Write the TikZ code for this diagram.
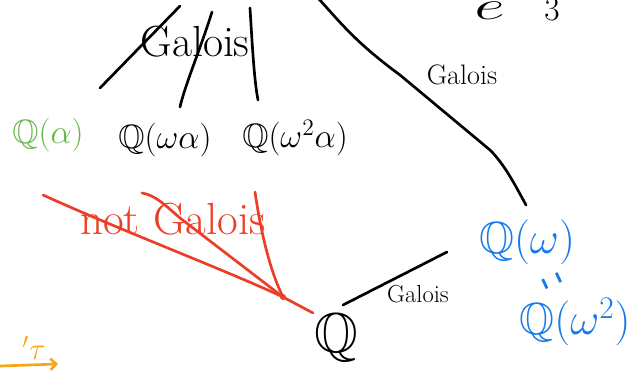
\RequirePackage{fix-cm}
\documentclass[tikz,border=0pt]{standalone}
\usepackage{amsmath,amssymb}
\usetikzlibrary{arrows.meta}
\definecolor{inkgreen}{RGB}{98,184,72}
\definecolor{inkblue}{RGB}{22,122,232}
\definecolor{inkred}{RGB}{236,62,38}
\definecolor{inkorange}{RGB}{246,166,20}
\tikzset{
  ink/.style={line width=1.9pt, line cap=round, line join=round},
  field/.style={inner sep=0pt, font=\fontsize{24}{28}\selectfont},
  bigfield/.style={inner sep=0pt, font=\fontsize{32}{38}\selectfont},
  tag/.style={inner sep=0pt, font=\fontsize{20}{24}\selectfont},
}

\begin{document}
\begin{tikzpicture}[x=0.025cm,y=-0.025cm]
  \useasboundingbox (0,0) rectangle (643,370);
  % fields
  \node[field,text=inkgreen] (qa) at (48,135) {$\mathbb{Q}(\alpha)$};
  \node[field] (qwa) at (165,140) {$\mathbb{Q}(\omega\alpha)$};
  \node[field] (qwwa) at (295,138) {$\mathbb{Q}(\omega^2\alpha)$};
  \node[bigfield,text=inkblue] (qw) at (527,242) {$\mathbb{Q}(\omega)$};
  \node[text=inkblue,rotate=-65,font=\fontsize{20}{24}\selectfont,inner sep=0pt] (eq) at (547,284) {\scalebox{0.6}[3]{$=$}};
  \node[bigfield,text=inkblue] (qww) at (575,322) {$\mathbb{Q}(\omega^2)$};
  \node[inner sep=0pt,font=\fontsize{40}{46}\selectfont] (q) at (336,338) {$\mathbb{Q}$};
  \node[anchor=base west,inner sep=0pt,font=\fontsize{34}{40}\selectfont] (root) at (474,19)
    {$\scalebox{1.4}[0.85]{$e$}\hspace{16pt}\raisebox{11pt}{$\frac{2\pi i}{3}$}$};

  % free ends
  \coordinate (t1) at (180,6);   \coordinate (a1) at (100,88);
  \coordinate (t2) at (212,12);  \coordinate (a2) at (180,107);
  \coordinate (t3) at (250,8);   \coordinate (a3) at (258,100);
  \coordinate (t4) at (318,-2);  \coordinate (qw-top) at (526,205);
  \coordinate (q-top) at (343,305); \coordinate (qw-low) at (447,252);

  \node[inner sep=0pt,font=\fontsize{31}{36}\selectfont] (g1) at (195,42) {Galois};
  \draw[ink] (t1) -- (a1);
  \draw[ink] (t2) .. controls (200,50) and (185,85) .. (a2);
  \draw[ink] (t3) .. controls (252,40) and (254,80) .. (a3);
  \draw[ink] (t4) .. controls (340,22) and (355,42) .. (400,75) -- (490,150) .. controls (505,165) and (515,185) .. (qw-top);
  \node[tag] (g2) at (462,75) {Galois};
  \draw[ink] (q-top) -- (qw-low);
  \node[tag,font=\fontsize{17.5}{20}\selectfont] (g3) at (418,294) {Galois};

  % not Galois
  \coordinate (ra) at (43,195); \coordinate (rb) at (142,193); \coordinate (rc) at (255,192);
  \coordinate (meet) at (283,297); \coordinate (q-red) at (313,313);
  \draw[ink,inkred] (ra) .. controls (120,230) and (230,272) .. (meet) -- (q-red);
  \draw[ink,inkred] (rb) .. controls (155,195) and (165,205) .. (180,218) -- (meet);
  \draw[ink,inkred] (rc) .. controls (262,240) and (272,275) .. (meet);
  \fill[inkred] (meet) circle (3);
  \node[inner sep=0pt,text=inkred,font=\fontsize{32}{38}\selectfont] (ng) at (173,219) {not Galois};

  % orange corner
  \node[inner sep=0pt,text=inkorange,font=\fontsize{22}{26}\selectfont] (tau) at (34,348) {$'\tau$};
  \coordinate (o1) at (0,366); \coordinate (o2) at (58,364);
  \draw[ink,inkorange,-{Straight Barb[length=4pt]}] (o1) -- (o2);
\end{tikzpicture}
\end{document}
